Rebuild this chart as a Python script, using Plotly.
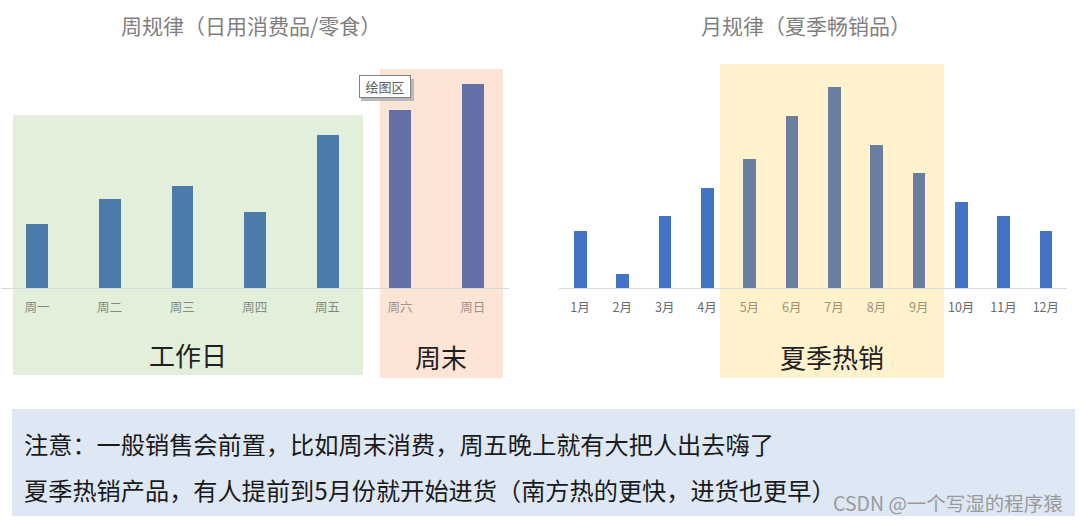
import plotly.graph_objects as go

# ---------------- data ----------------
week_days = ["周一", "周二", "周三", "周四", "周五", "周六", "周日"]
week_values = [2.5, 3.5, 4.0, 3.0, 6.0, 7.0, 8.0]
week_is_weekend = [False, False, False, False, False, True, True]

months = ["1月", "2月", "3月", "4月", "5月", "6月", "7月", "8月", "9月", "10月", "11月", "12月"]
month_values = [4, 1, 5, 7, 9, 12, 14, 10, 8, 6, 5, 4]
month_is_summer = [False, False, False, False, True, True, True, True, True, False, False, False]

title_week = "周规律（日用消费品/零食）"
title_month = "月规律（夏季畅销品）"
label_workday = "工作日"
label_weekend = "周末"
label_summer = "夏季热销"
tooltip_text = "绘图区"
note_lines = [
    "注意：一般销售会前置，比如周末消费，周五晚上就有大把人出去嗨了",
    "夏季热销产品，有人提前到5月份就开始进货（南方热的更快，进货也更早）",
]
watermark = "CSDN @一个写湿的程序猿"

# ---------------- layout helpers ----------------
W, H = 1080, 521
FONT = "Noto Sans CJK SC"


def px(x):
    return x / W


def py(y):
    return 1 - y / H


BASE, TOP = 288, 60
y_dom = [py(BASE), py(TOP)]

fig = go.Figure()

# left chart
c_work, c_wkend = "#4B7BAB", "#6571A6"
fig.add_trace(go.Bar(
    x=week_days, y=week_values, width=0.3,
    marker=dict(color=[c_wkend if w else c_work for w in week_is_weekend], line=dict(width=0)),
    xaxis="x", yaxis="y", hoverinfo="x+y", showlegend=False,
))

# right chart
c_norm, c_sum = "#4472C4", "#6A7F9F"
fig.add_trace(go.Bar(
    x=months, y=month_values, width=0.3,
    marker=dict(color=[c_sum if s else c_norm for s in month_is_summer], line=dict(width=0)),
    xaxis="x2", yaxis="y2", hoverinfo="x+y", showlegend=False,
))

week_ticks = [
    f"<span style='color:{'#a39089' if w else '#838c82'}'>{d}</span>"
    for d, w in zip(week_days, week_is_weekend)
]
month_ticks = [
    f"<span style='color:{'#a3936f' if s else '#6b6b6b'}'>{m}</span>"
    for m, s in zip(months, month_is_summer)
]

axis_common = dict(
    type="category", showline=True, linecolor="#d9d9d9", linewidth=1,
    showgrid=False, zeroline=False, ticks="outside", ticklen=8,
    tickcolor="rgba(0,0,0,0)", tickfont=dict(family=FONT, size=12.5),
    fixedrange=True,
)

fig.update_layout(
    width=W, height=H,
    margin=dict(l=0, r=0, t=0, b=0),
    paper_bgcolor="white", plot_bgcolor="rgba(0,0,0,0)",
    bargap=0,
    xaxis=dict(domain=[px(0.7), px(509)], anchor="y", range=[-0.5, 6.5],
               tickvals=week_days, ticktext=week_ticks, **axis_common),
    yaxis=dict(domain=y_dom, anchor="x", range=[0, (BASE - TOP) / 25.5],
               visible=False, fixedrange=True),
    xaxis2=dict(domain=[px(558.8), px(1067)], anchor="y2", range=[-0.5, 11.5],
                tickvals=months, ticktext=month_ticks, **axis_common),
    yaxis2=dict(domain=y_dom, anchor="x2", range=[0, (BASE - TOP) / 14.35],
                visible=False, fixedrange=True),
    font=dict(family=FONT),
)


def rect(x0, y0, x1, y1, color, layer="below"):
    return dict(type="rect", xref="paper", yref="paper",
                x0=px(x0), x1=px(x1), y0=py(y1), y1=py(y0),
                fillcolor=color, line=dict(width=0), layer=layer)


shapes = [
    rect(13, 115, 363, 375, "#E2EFDA"),
    rect(380, 69, 503, 378, "#FCE4D6"),
    rect(720, 64, 944, 378, "#FFF2CC"),
    rect(12, 409, 1075, 516, "#DEE8F5"),
    rect(361, 79, 414, 101, "#b8b8b8", layer="above"),
]
fig.update_layout(shapes=shapes)

ann = []


def text(x, y, s, size, color, xanchor="center", **kw):
    ann.append(dict(x=px(x), y=py(y), xref="paper", yref="paper", text=s,
                    showarrow=False, xanchor=xanchor, yanchor="middle",
                    font=dict(family=FONT, size=size, color=color), **kw))


text(251, 25, title_week, 21, "#7f7f7f")
text(806, 25, title_month, 21, "#7f7f7f")
text(188, 354, label_workday, 26, "#1f1f1f")
text(441, 356, label_weekend, 26, "#1f1f1f")
text(832, 356, label_summer, 26, "#1f1f1f")
text(384.5, 87, tooltip_text, 13, "#606060", bgcolor="white",
     bordercolor="#808080", borderwidth=1, borderpad=2, width=46, height=17)
text(22, 443, note_lines[0], 24.2, "#1a1a1a", xanchor="left")
text(22, 489, note_lines[1], 24.2, "#1a1a1a", xanchor="left")
text(1065, 502, watermark, 19.5, "#9a9a9a", xanchor="right")
fig.update_layout(annotations=ann)

fig.write_html(
    "out.html",
    config={"displayModeBar": False},
    post_script="document.body.style.margin='0';document.body.style.overflow='hidden';",
)
